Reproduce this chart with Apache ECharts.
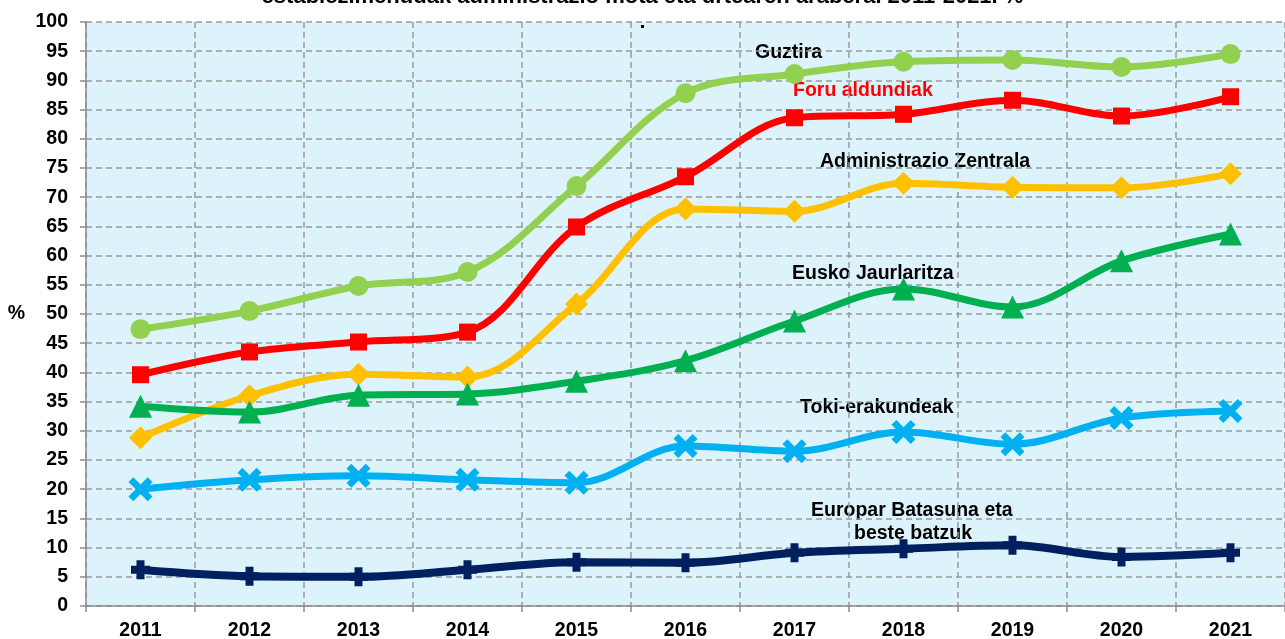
<!DOCTYPE html>
<html><head><meta charset="utf-8">
<script src="https://cdn.jsdelivr.net/npm/echarts@6/dist/echarts.min.js"></script>
<style>html,body{margin:0;padding:0;background:#fff}#c{width:1285px;height:639px}</style>
</head><body><div id="c"></div>
<script>
const years = ['2011','2012','2013','2014','2015','2016','2017','2018','2019','2020','2021'];
const guztira = [47.4,50.5,54.8,57.2,71.9,87.8,91.1,93.2,93.5,92.3,94.5];
const foru = [39.6,43.5,45.2,46.9,64.9,73.5,83.6,84.2,86.6,83.9,87.2];
const adminZentrala = [28.8,36.0,39.7,39.2,51.7,68.0,67.6,72.4,71.7,71.6,74.0];
const euskoJaurlaritza = [34.2,33.2,36.1,36.3,38.5,42.0,48.8,54.3,51.2,59.1,63.7];
const tokiErakundeak = [20.0,21.6,22.3,21.6,21.1,27.4,26.5,29.8,27.7,32.2,33.4];
const europar = [6.2,5.1,5.0,6.2,7.5,7.4,9.1,9.8,10.4,8.4,9.1];
const yTicks = [0,5,10,15,20,25,30,35,40,45,50,55,60,65,70,75,80,85,90,95,100];

const X_PATH = 'path://M2,0 L5,3 L8,0 L10,2 L7,5 L10,8 L8,10 L5,7 L2,10 L0,8 L3,5 L0,2 Z';
const PLUS_PATH = 'path://M2.9,0 H7.1 V2.9 H10 V7.1 H7.1 V10 H2.9 V7.1 H0 V2.9 H2.9 Z';
const FONT = 'Liberation Sans, Arial';

function ser(name, data, color, symbol, size, width){
  return {name, type:'line', data, smooth:0.35, symbol, symbolSize:size,
    lineStyle:{color, width:width||7}, itemStyle:{color}, z:5};
}
const chart = echarts.init(document.getElementById('c'));
const lbl = {fontFamily:FONT, fontWeight:'bold', fontSize:19.5, fill:'#000'};
chart.setOption({
  animation:false,
  backgroundColor:'#fff',
  title:{text:'establezimenduak administrazio mota eta urtearen arabera. 2011-2021. %', left:'center', top:-19,
    textStyle:{fontFamily:FONT, fontWeight:'bold', fontSize:22, color:'#000'}},
  grid:{left:86, right:0, top:22, bottom:33, show:true, backgroundColor:'#DDF3FC', borderWidth:0,
    containLabel:false, outerBoundsMode:'none'},
  xAxis:{type:'category', data:years, boundaryGap:true,
    axisLine:{lineStyle:{color:'#8c8c8c', width:1.5}},
    axisTick:{show:true, length:6, lineStyle:{color:'#8c8c8c', width:1.5}},
    axisLabel:{fontFamily:FONT, fontWeight:'bold', fontSize:19.5, color:'#000', margin:15},
    splitLine:{show:true, lineStyle:{color:'#999', type:[6,4], width:1.5}}},
  yAxis:{type:'value', min:0, max:100, interval:5,
    name:'%', nameLocation:'middle', nameRotate:0, nameGap:61,
    nameTextStyle:{fontFamily:FONT, fontWeight:'bold', fontSize:19.5, color:'#000'},
    axisLine:{show:true, lineStyle:{color:'#8c8c8c', width:1.5}},
    axisTick:{show:true, length:6, lineStyle:{color:'#8c8c8c', width:1.5}},
    axisLabel:{fontFamily:FONT, fontWeight:'bold', fontSize:19.5, color:'#000', margin:18,
      formatter:v=>yTicks.includes(v)?String(v):''},
    splitLine:{show:true, lineStyle:{color:'#999', type:[6,4], width:1.5}}},
  series:[
    ser('Guztira', guztira, '#92D050', 'circle', 20),
    ser('Foru aldundiak', foru, '#FF0000', 'rect', 17),
    ser('Administrazio Zentrala', adminZentrala, '#FFC000', 'diamond', 23),
    ser('Eusko Jaurlaritza', euskoJaurlaritza, '#00B050', 'triangle', 23),
    ser('Toki-erakundeak', tokiErakundeak, '#00B0F0', X_PATH, 24),
    ser('Europar Batasuna eta beste batzuk', europar, '#002060', PLUS_PATH, 19, 8)
  ],
  graphic:[
    {type:'rect', left:641, top:25, shape:{width:3, height:3}, style:{fill:'#000'}, z:10},
    {type:'text', left:755, top:43, style:Object.assign({text:'Guztira'}, lbl)},
    {type:'text', left:793, top:81, style:Object.assign({}, lbl, {text:'Foru aldundiak', fill:'#FF0000'})},
    {type:'text', left:820, top:152, style:Object.assign({text:'Administrazio Zentrala'}, lbl)},
    {type:'text', left:792, top:264, style:Object.assign({text:'Eusko Jaurlaritza'}, lbl)},
    {type:'text', left:800, top:398, style:Object.assign({text:'Toki-erakundeak'}, lbl)},
    {type:'text', left:811, top:501, style:Object.assign({text:'Europar Batasuna eta'}, lbl)},
    {type:'text', left:854, top:524, style:Object.assign({text:'beste batzuk'}, lbl)}
  ]
});
</script></body></html>
